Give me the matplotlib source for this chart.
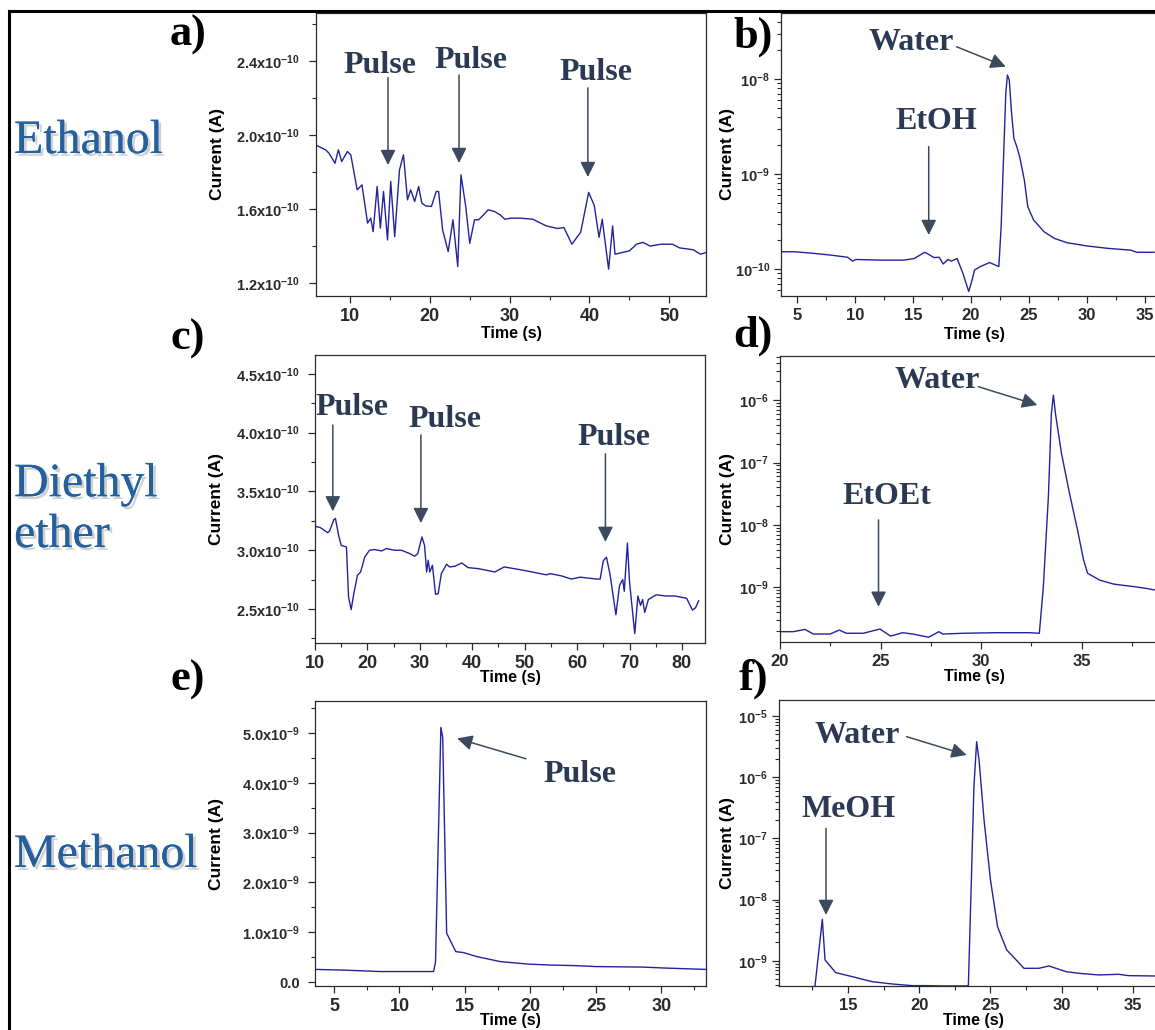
import matplotlib
matplotlib.use("Agg")
import matplotlib.pyplot as plt
import matplotlib.patheffects as pe
from matplotlib.patches import Rectangle
from matplotlib.ticker import MultipleLocator, FuncFormatter, LogLocator, NullFormatter

plt.rcParams.update({
    "font.family": "Liberation Sans",
    "font.weight": "bold",
    "mathtext.fontset": "custom",
    "mathtext.rm": "Liberation Sans:bold",
    "mathtext.it": "Liberation Sans:bold",
    "mathtext.bf": "Liberation Sans:bold",
    "mathtext.default": "rm",
})

W, H = 1155, 1030
LINE = "#22229c"
NOTE = "#2b3a52"
ARROW = "#3b4a5e"
ROW = "#245f9e"

# ---- a) ethanol, pulses (current in 1e-10 A)
a_time = [5.7, 6.95, 7.37, 8.12, 8.54, 8.96, 9.67, 10.1, 10.9, 11.5, 12.2, 12.6, 12.9, 13.4,
          13.8, 14.2, 14.7, 15.1, 15.6, 16.2, 16.7, 17.2, 17.6, 18.1, 18.6, 19.0, 19.5, 20.2,
          20.8, 21.1, 21.6, 22.3, 22.9, 23.5, 23.9, 24.5, 25.0, 25.6, 26.1, 26.6, 27.3, 28.1,
          28.8, 29.4, 30.2, 31.3, 32.9, 34.6, 36.0, 36.8, 37.8, 38.9, 39.9, 40.6, 41.2, 41.6,
          42.4, 42.9, 43.2, 45.0, 45.9, 46.7, 47.6, 49.0, 50.4, 51.3, 53.0, 53.9, 54.6]
a_cur = [1.947, 1.92, 1.902, 1.848, 1.92, 1.857, 1.911, 1.893, 1.704, 1.731, 1.524, 1.551, 1.478, 1.722,
         1.497, 1.695, 1.433, 1.749, 1.451, 1.812, 1.893, 1.650, 1.704, 1.641, 1.722, 1.632, 1.617, 1.614,
         1.695, 1.695, 1.488, 1.370, 1.542, 1.289, 1.785, 1.614, 1.415, 1.542, 1.542, 1.563, 1.596, 1.587,
         1.569, 1.545, 1.551, 1.551, 1.545, 1.509, 1.495, 1.50, 1.41, 1.475, 1.69, 1.62, 1.447, 1.545,
         1.275, 1.509, 1.356, 1.374, 1.41, 1.42, 1.40, 1.41, 1.41, 1.39, 1.38, 1.356, 1.365]

# ---- b) ethanol, log scale (A)
b_time = [3.6, 4.75, 6.47, 7.91, 9.35, 9.78, 10.07, 12.2, 14.2, 15.1, 16.0, 16.2, 16.8, 17.25,
          17.6, 18.0, 18.3, 18.8, 19.3, 19.8, 20.1, 20.3, 20.8, 21.6, 22.1, 22.4, 22.6, 22.8,
          23.0, 23.14, 23.3, 23.5, 23.7, 23.95, 24.2, 24.6, 24.9, 25.4, 26.3, 27.2, 28.3, 30.0,
          31.8, 33.8, 34.3, 35.8]
b_cur = [1.52e-10, 1.52e-10, 1.46e-10, 1.40e-10, 1.33e-10, 1.21e-10, 1.26e-10, 1.24e-10, 1.24e-10,
         1.29e-10, 1.50e-10, 1.46e-10, 1.32e-10, 1.33e-10, 1.13e-10, 1.26e-10, 1.21e-10, 1.29e-10,
         9.0e-11, 5.8e-11, 7.7e-11, 9.75e-11, 1.06e-10, 1.17e-10, 1.10e-10, 1.06e-10, 2.79e-10,
         1.40e-9, 7.06e-9, 1.10e-8, 9.8e-9, 4.37e-9, 2.37e-9, 1.94e-9, 1.52e-9, 8.65e-10, 4.53e-10,
         3.28e-10, 2.47e-10, 2.10e-10, 1.89e-10, 1.75e-10, 1.65e-10, 1.58e-10, 1.50e-10, 1.50e-10]

# ---- c) diethyl ether, pulses (current in 1e-10 A)
c_time = [10.0, 11.0, 12.4, 12.8, 13.6, 13.9, 14.5, 15.0, 16.0, 16.4, 16.9, 17.4, 18.1, 18.7,
          19.5, 20.4, 21.4, 22.7, 23.6, 25.2, 26.5, 28.1, 29.0, 29.6, 30.4, 30.9, 31.3, 31.6,
          31.9, 32.4, 33.0, 33.5, 34.1, 35.1, 35.7, 36.7, 38.0, 39.2, 41.1, 42.7, 44.3, 46.1,
          49.6, 51.9, 54.1, 54.9, 57.1, 58.9, 60.6, 63.7, 64.4, 65.0, 65.6, 66.3, 67.4, 68.1,
          68.7, 69.0, 69.6, 70.0, 71.0, 71.6, 72.1, 72.5, 72.9, 73.6, 75.1, 76.9, 78.7, 80.9,
          82.0, 82.6, 83.2]
c_cur = [3.203, 3.192, 3.149, 3.164, 3.26, 3.269, 3.127, 3.04, 3.027, 2.60, 2.494, 2.63, 2.786, 2.814,
         2.942, 2.999, 3.005, 2.993, 3.013, 2.999, 2.999, 2.97, 2.948, 2.97, 3.112, 3.04, 2.814, 2.914,
         2.814, 2.871, 2.624, 2.63, 2.80, 2.88, 2.857, 2.863, 2.891, 2.851, 2.843, 2.829, 2.814, 2.857,
         2.83, 2.81, 2.79, 2.80, 2.78, 2.754, 2.77, 2.754, 2.754, 2.91, 2.94, 2.79, 2.45, 2.70,
         2.75, 2.65, 3.06, 2.73, 2.29, 2.61, 2.53, 2.58, 2.47, 2.58, 2.62, 2.61, 2.61, 2.59,
         2.49, 2.51, 2.57]

# ---- d) diethyl ether, log scale (A)
d_time = [20.0, 20.66, 21.24, 21.66, 22.49, 22.95, 23.3, 24.15, 24.97, 25.5, 26.1, 26.6, 27.4,
          27.9, 28.1, 29.1, 30.8, 32.4, 32.9, 33.1, 33.35, 33.5, 33.6, 33.7, 34.0, 34.4, 34.8,
          35.1, 35.3, 35.9, 36.6, 37.6, 38.2, 38.65]
d_cur = [1.93e-10, 1.93e-10, 2.10e-10, 1.77e-10, 1.77e-10, 2.05e-10, 1.82e-10, 1.82e-10, 2.13e-10,
         1.64e-10, 1.86e-10, 1.77e-10, 1.57e-10, 1.93e-10, 1.77e-10, 1.82e-10, 1.86e-10, 1.86e-10,
         1.82e-10, 1.02e-9, 2.83e-8, 6.17e-7, 1.21e-6, 6.17e-7, 1.41e-7, 3.21e-8, 8.26e-9,
         2.73e-9, 1.67e-9, 1.30e-9, 1.12e-9, 1.02e-9, 9.57e-10, 9.0e-10]

# ---- e) methanol, pulse (current in 1e-9 A)
e_time = [3.6, 5.6, 8.6, 12.6, 12.75, 13.16, 13.3, 13.6, 14.3, 14.9, 15.9, 17.7, 19.8, 21.5,
          23.3, 25.0, 28.5, 30.3, 33.4]
e_cur = [0.253, 0.24, 0.21, 0.21, 0.40, 5.11, 4.91, 0.98, 0.61, 0.59, 0.51, 0.41, 0.36, 0.34,
         0.33, 0.31, 0.30, 0.28, 0.253]

# ---- f) methanol, log scale (A)
f_time = [12.55, 13.2, 13.39, 14.14, 15.3, 16.7, 18.1, 19.5, 20.4, 21.5, 22.5, 23.3, 23.45, 23.68,
          23.84, 24.03, 24.2, 24.55, 25.0, 25.5, 26.14, 26.8, 27.35, 28.4, 29.1, 29.6, 30.3, 31.2,
          32.6, 34.0, 34.7, 36.55]
f_cur = [2.0e-10, 4.77e-9, 1.04e-9, 6.43e-10, 5.53e-10, 4.58e-10, 4.2e-10, 3.94e-10, 3.95e-10,
         3.9e-10, 3.9e-10, 3.9e-10, 3.95e-10, 3.05e-8, 7.0e-7, 3.8e-6, 1.9e-6, 2.0e-7, 2.1e-8,
         3.6e-9, 1.51e-9, 1.04e-9, 7.57e-10, 7.57e-10, 8.26e-10, 7.57e-10, 6.68e-10, 6.27e-10,
         5.89e-10, 6.04e-10, 5.74e-10, 5.67e-10]

ROWS = ["Ethanol", "Diethyl\nether", "Methanol"]
LETTERS = ["a)", "b)", "c)", "d)", "e)", "f)"]

fig = plt.figure(figsize=(W / 100, H / 100), dpi=100)


def px_axes(l, t, r, b):
    return fig.add_axes([l / W, 1 - b / H, (r - l) / W, (b - t) / H])


def sci_fmt(exp):
    def f(v, p):
        if abs(v) < 10.0 ** (exp - 6):
            return "0.0"
        return f"{v / 10.0 ** exp:.1f}x10$^{{{exp}}}$"
    return FuncFormatter(f)


def style(ax, xmaj, xlab_y, ylab_x, xts, ypad):
    for s in ax.spines.values():
        s.set_linewidth(0.9)
        s.set_color("#2a2a2a")
    ax.tick_params(which="both", direction="out", top=False, right=False, colors="#2a2a2a")
    ax.tick_params(which="major", length=5, width=0.9)
    ax.tick_params(which="minor", length=3, width=0.8)
    ax.tick_params(axis="x", labelsize=xts, pad=3.5)
    ax.tick_params(axis="y", labelsize=10.5, pad=ypad)
    ax.xaxis.set_major_locator(MultipleLocator(xmaj))
    ax.xaxis.set_minor_locator(MultipleLocator(xmaj / 2))
    ax.set_xlabel("Time (s)", fontsize=11.5, fontweight="bold")
    ax.xaxis.set_label_coords(0.5, xlab_y)
    ax.set_ylabel("Current (A)", fontsize=12.5, fontweight="bold")
    ax.yaxis.set_label_coords(ylab_x, 0.5)


def lin_y(ax, step, exp):
    ax.yaxis.set_major_locator(MultipleLocator(step))
    ax.yaxis.set_minor_locator(MultipleLocator(step / 2))
    ax.yaxis.set_major_formatter(sci_fmt(exp))


def log_y(ax):
    ax.set_yscale("log")
    ax.yaxis.set_major_locator(LogLocator(base=10, numticks=20))
    ax.yaxis.set_minor_locator(LogLocator(base=10, subs=range(2, 10), numticks=40))
    ax.yaxis.set_minor_formatter(NullFormatter())


def note(ax, text, tx, ty, start, tip):
    ax.annotate("", xy=tip, xytext=start,
                arrowprops=dict(arrowstyle="-|>", color=ARROW, lw=1.1,
                                mutation_scale=23, shrinkA=0, shrinkB=0))
    ax.text(tx, ty, text, ha="center", va="baseline", family="Liberation Serif",
            weight="bold", size=23, color=NOTE)


# a)
ax = px_axes(316, 13, 706, 296)
ax.plot(a_time, [v * 1e-10 for v in a_cur], color=LINE, lw=1.0)
ax.set_xlim(5.74, 54.6)
ax.set_ylim(1.13e-10, 2.66e-10)
style(ax, 10, -0.105, -0.233, 13, 7)
lin_y(ax, 0.4e-10, -10)
note(ax, "Pulse", 13.76, 2.334e-10, (14.76, 2.31e-10), (14.76, 1.838e-10))
note(ax, "Pulse", 25.2, 2.361e-10, (23.66, 2.325e-10), (23.66, 1.849e-10))
note(ax, "Pulse", 40.8, 2.298e-10, (39.8, 2.255e-10), (39.8, 1.773e-10))

# b)
ax = px_axes(781, 13, 1168, 296)
ax.plot(b_time, b_cur, color=LINE, lw=1.0)
log_y(ax)
ax.set_xlim(3.6, 37.0)
ax.set_ylim(10 ** -10.284, 10 ** -7.305)
style(ax, 5, -0.11, -0.119, 12, 3)
note(ax, "Water", 14.85, 10 ** -7.694, (18.75, 10 ** -7.66), (23.0, 10 ** -7.87))
note(ax, "EtOH", 17.0, 10 ** -8.529, (16.35, 10 ** -8.712), (16.35, 10 ** -9.642))

# c)
ax = px_axes(315, 355, 705, 643)
ax.plot(c_time, [v * 1e-10 for v in c_cur], color=LINE, lw=1.0)
ax.set_xlim(10, 84.4)
ax.set_ylim(2.21e-10, 4.66e-10)
style(ax, 10, -0.094, -0.233, 13, 6)
lin_y(ax, 0.5e-10, -10)
note(ax, "Pulse", 17.1, 4.149e-10, (13.4, 4.064e-10), (13.4, 3.33e-10))
note(ax, "Pulse", 34.7, 4.05e-10, (30.2, 3.98e-10), (30.2, 3.23e-10))
note(ax, "Pulse", 67.0, 3.893e-10, (65.4, 3.82e-10), (65.4, 3.07e-10))

# d)
ax = px_axes(780, 356, 1168, 642)
ax.plot(d_time, d_cur, color=LINE, lw=1.0)
log_y(ax)
ax.set_xlim(20, 39.3)
ax.set_ylim(10 ** -9.88, 10 ** -5.29)
style(ax, 5, -0.094, -0.116, 12, 3)
note(ax, "Water", 27.84, 10 ** -5.809, (29.87, 10 ** -5.783), (32.8, 10 ** -6.077))
note(ax, "EtOEt", 25.3, 10 ** -7.666, (24.9, 10 ** -7.922), (24.9, 10 ** -9.314))

# e)
ax = px_axes(315, 701, 706, 986)
ax.plot(e_time, [v * 1e-9 for v in e_cur], color=LINE, lw=1.0)
ax.set_xlim(3.55, 33.4)
ax.set_ylim(-0.08e-9, 5.64e-9)
style(ax, 5, -0.096, -0.233, 13, 6)
lin_y(ax, 1e-9, -9)
note(ax, "Pulse", 23.8, 4.02e-9, (19.66, 4.48e-9), (14.4, 4.89e-9))

# f)
ax = px_axes(779, 700, 1168, 986)
ax.plot(f_time, f_cur, color=LINE, lw=1.0)
log_y(ax)
ax.set_xlim(10.16, 37.46)
ax.set_ylim(10 ** -9.41, 10 ** -4.74)
style(ax, 5, -0.096, -0.113, 12, 3)
note(ax, "Water", 15.67, 10 ** -5.447, (19.12, 10 ** -5.339), (23.33, 10 ** -5.638))
note(ax, "MeOH", 15.07, 10 ** -6.645, (13.46, 10 ** -6.835), (13.46, 10 ** -8.25))

# row names (baseline of last line) and panel letters
shadow = [pe.withSimplePatchShadow(offset=(2, -2), shadow_rgbFace="#8a8a8a", alpha=0.4), pe.Normal()]
for name, base in zip(ROWS, [153, 547, 867]):
    fig.text(14 / W, 1 - base / H, name, family="Liberation Serif", weight="normal", size=34.5,
             color=ROW, ha="left", va="baseline", linespacing=1.2, path_effects=shadow,
             multialignment="left")
for lab, (x, y) in zip(LETTERS, [(188, 35), (753, 37), (188, 339), (753, 336), (188, 680), (753, 679)]):
    fig.text(x / W, 1 - y / H, lab, family="Liberation Serif", weight="bold", size=32,
             color="black", ha="center", va="center")

fig.add_artist(Rectangle((9 / W, -0.05), 1.1, (H - 11) / H + 0.05, transform=fig.transFigure,
                         fill=False, lw=2.2, ec="black", clip_on=False))

fig.savefig("out.png", dpi=100)
